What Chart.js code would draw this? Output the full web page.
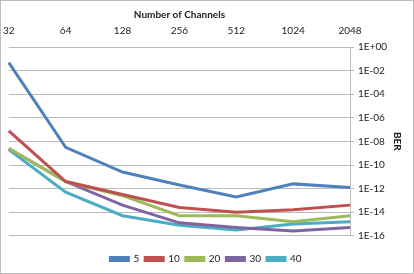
<!DOCTYPE html>
<html>
<head>
<meta charset="utf-8">
<script src="https://cdn.jsdelivr.net/npm/chart.js@4/dist/chart.umd.min.js"></script>
<style>
  html, body { margin: 0; padding: 0; background: #fff; }
  #box { width: 412px; height: 272px; border: 1px solid #bdbdbd; position: relative; }
</style>
</head>
<body>
<div id="box"><canvas id="c" width="412" height="272"></canvas></div>
<script>
const channels = ['32', '64', '128', '256', '512', '1024', '2048'];
const berTicks = [1e0, 1e-2, 1e-4, 1e-6, 1e-8, 1e-10, 1e-12, 1e-14, 1e-16];

// log10(BER)
const ber5  = [-1.33, -8.5, -10.6, -11.7, -12.7, -11.6, -11.9];
const ber10 = [-7.1, -11.4, -12.5, -13.6, -14.0, -13.8, -13.4];
const ber20 = [-8.6, -11.4, -12.6, -14.3, -14.3, -14.8, -14.3];
const ber30 = [-8.6, -11.4, -13.4, -14.9, -15.3, -15.6, -15.3];
const ber40 = [-8.7, -12.3, -14.3, -15.1, -15.5, -15.0, -14.8];

const series = [
    { label: '5',  data: ber5,  color: '#4F81BD' },
    { label: '10', data: ber10, color: '#C0504D' },
    { label: '20', data: ber20, color: '#9BBB59' },
    { label: '30', data: ber30, color: '#8064A2' },
    { label: '40', data: ber40, color: '#4BACC6' }
];

function fmt(v) {
    const e = Math.round(Math.log10(v));
    const s = Math.abs(e).toString().padStart(2, '0');
    return '1E' + (e < 0 ? '-' : '+') + s;
}

Chart.defaults.font.family = 'Lato, "Open Sans", sans-serif';
Chart.defaults.font.size = 10;
Chart.defaults.color = '#222';

new Chart(document.getElementById('c').getContext('2d'), {
    type: 'line',
    data: {
        labels: channels,
        datasets: series.map(s => ({
            label: s.label,
            data: s.data.map(v => Math.pow(10, v)),
            borderColor: s.color,
            backgroundColor: s.color,
            borderWidth: 3,
            pointRadius: 0,
            tension: 0
        }))
    },
    options: {
        responsive: false,
        animation: false,
        layout: { padding: { left: 2, right: 4, top: 8, bottom: -1 } },
        plugins: {
            tooltip: { enabled: false },
            legend: {
                position: 'bottom',
                // empty title only used as spacer above the items
                title: { display: true, text: ' ', font: { size: 1 }, padding: { top: 11, bottom: 0 } },
                labels: { boxWidth: 18, boxHeight: 3, padding: 6, font: { size: 10 } }
            }
        },
        scales: {
            x: {
                position: 'top',
                grid: { display: false },
                border: { display: false },
                ticks: { maxRotation: 0, autoSkip: false, padding: 2 },
                title: { display: true, text: 'Number of Channels', font: { weight: 'bold', size: 10 }, padding: { top: 0, bottom: 2 } }
            },
            y: {
                type: 'logarithmic',
                position: 'right',
                min: 1e-16,
                max: 1,
                afterBuildTicks: axis => { axis.ticks = berTicks.map(v => ({ value: v })); },
                ticks: { callback: v => fmt(v), padding: 4 },
                grid: { color: '#bcbcbc', tickLength: 4 },
                border: { display: true, color: '#bcbcbc' },
                title: { display: true, text: 'BER', font: { weight: 'bold', size: 10 }, padding: { top: 6, bottom: 0 } }
            }
        }
    }
});
</script>
</body>
</html>
